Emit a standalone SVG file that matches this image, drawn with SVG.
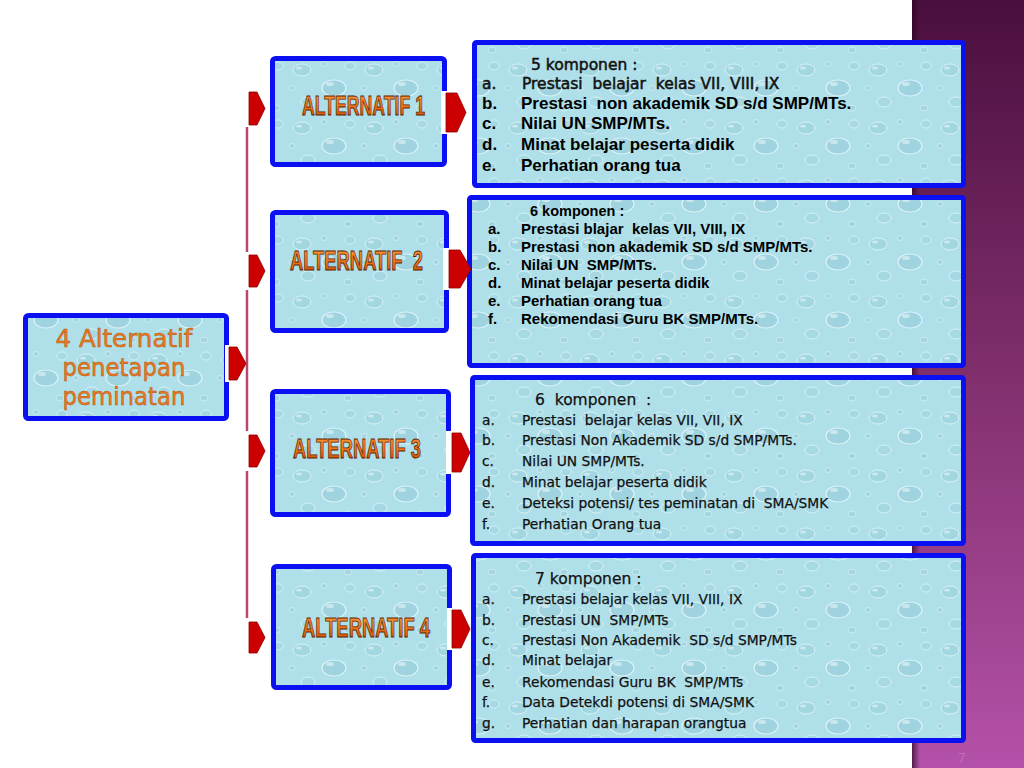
<svg xmlns="http://www.w3.org/2000/svg" width="1024" height="768" viewBox="0 0 1024 768" xml:space="preserve">
<defs>
<linearGradient id="band" x1="0" y1="0" x2="0" y2="1"><stop offset="0" stop-color="#4a0f3e"/><stop offset="0.5" stop-color="#82306e"/><stop offset="1" stop-color="#b451a9"/></linearGradient>
<linearGradient id="bandEdge" x1="0" y1="0" x2="1" y2="0"><stop offset="0" stop-color="#2a0422" stop-opacity="0.7"/><stop offset="1" stop-color="#2a0422" stop-opacity="0"/></linearGradient>
<linearGradient id="orange" x1="0" y1="0" x2="0" y2="1"><stop offset="0" stop-color="#ffa040"/><stop offset="0.55" stop-color="#ee7418"/><stop offset="1" stop-color="#c04800"/></linearGradient>
<pattern id="drops" width="72" height="58" patternUnits="userSpaceOnUse">
<rect width="72" height="58" fill="#afe0ea"/>
<ellipse cx="14" cy="12" rx="9" ry="6" fill="#a2d6e1" stroke="#d8f2f7" stroke-width="1"/>
<ellipse cx="46" cy="30" rx="12" ry="8" fill="#9fd3df" stroke="#dcf3f8" stroke-width="1.2"/>
<ellipse cx="20" cy="44" rx="7" ry="5" fill="#a6d9e3" stroke="#d6f1f6" stroke-width="1"/>
<ellipse cx="62" cy="8" rx="5" ry="4" fill="#a6d9e3" stroke="#d8f2f7" stroke-width="0.8"/>
<ellipse cx="36" cy="6" rx="3" ry="2.5" fill="#a4d7e2" stroke="#e0f5f9" stroke-width="0.6"/>
<ellipse cx="4" cy="30" rx="3" ry="2.5" fill="#a4d7e2" stroke="#e0f5f9" stroke-width="0.6"/>
<ellipse cx="60" cy="50" rx="4" ry="3" fill="#a4d7e2" stroke="#e0f5f9" stroke-width="0.6"/>
<ellipse cx="42" cy="26" rx="4" ry="2" fill="#ffffff" opacity="0.45"/>
<ellipse cx="11" cy="10" rx="3" ry="1.5" fill="#ffffff" opacity="0.45"/>
</pattern>
<style>
text{white-space:pre}
.box{fill:url(#drops);stroke:#0a10f2;stroke-width:5}
.arr{fill:#cc0000;stroke:#8f0000;stroke-width:0.8}
.gap{fill:#ffffff}
.main{font-family:"DejaVu Sans","Noto Sans",sans-serif;font-size:24px;fill:#e97c22;stroke:#b85410;stroke-width:0.5;text-anchor:middle}
.alt{font-family:"Liberation Sans",Arial,sans-serif;font-weight:bold;font-size:28px;fill:url(#orange);stroke:#5a1e00;stroke-width:0.9}
.ab{font-family:"Liberation Sans",Arial,sans-serif;font-weight:bold;fill:#000}
.ab17{font-size:17px}
.ab15{font-size:15px}
.tah{font-family:"DejaVu Sans","Noto Sans",sans-serif;fill:#111;stroke:#111;stroke-width:0.25}
.tb{stroke-width:0.5}
.th16{font-size:15.5px}
.th14{font-size:13.8px}
</style>
</defs>
<rect x="0" y="0" width="1024" height="768" fill="#ffffff"/>
<rect x="912" y="0" width="112" height="768" fill="url(#band)"/>
<rect x="912" y="0" width="8" height="768" fill="url(#bandEdge)"/>
<text x="958" y="763" font-family="Liberation Sans,Arial,sans-serif" font-size="14" fill="#c66bbd">7</text>

<g id="connectors">
<line x1="247" y1="127" x2="247" y2="618" stroke="#b84a72" stroke-width="2.5"/>
<rect class="gap" x="244" y="252" width="6" height="38"/>
<rect class="gap" x="244" y="431" width="6" height="40"/>
<path class="arr" d="M249,92 H257 L265,108.5 L257,125 H249 Z"/>
<path class="arr" d="M249,255 H257 L265,271 L257,287 H249 Z"/>
<path class="arr" d="M249,435 H257 L265,451 L257,467 H249 Z"/>
<path class="arr" d="M249,622 H257 L265,637.5 L257,653 H249 Z"/>
</g>

<g id="node-main">
<rect class="box" x="25.5" y="315.5" width="201" height="103" rx="3"/>
<rect class="gap" x="225" y="345" width="5" height="37"/>
<path class="arr" d="M229,347 H237 L246,363.5 L237,380 H229 Z"/>
<text class="main" x="124" y="347" textLength="137" lengthAdjust="spacingAndGlyphs">4 Alternatif</text>
<text class="main" x="124" y="376" textLength="123" lengthAdjust="spacingAndGlyphs">penetapan</text>
<text class="main" x="124" y="405" textLength="123" lengthAdjust="spacingAndGlyphs">peminatan</text>
</g>

<g id="node-alt1">
<rect class="box" x="272.5" y="58.5" width="172" height="106" rx="3"/>
<text class="alt" x="302" y="115" textLength="123" lengthAdjust="spacingAndGlyphs">ALTERNATIF 1</text>
</g>
<g id="node-alt2">
<rect class="box" x="272.5" y="212.5" width="174" height="118" rx="3"/>
<text class="alt" x="290" y="270" textLength="133" lengthAdjust="spacingAndGlyphs">ALTERNATIF  2</text>
</g>
<g id="node-alt3">
<rect class="box" x="272.5" y="391.5" width="176" height="123" rx="3"/>
<text class="alt" x="293" y="458" textLength="128" lengthAdjust="spacingAndGlyphs">ALTERNATIF 3</text>
</g>
<g id="node-alt4">
<rect class="box" x="273.5" y="566.5" width="176" height="121" rx="3"/>
<text class="alt" x="302" y="637" textLength="128" lengthAdjust="spacingAndGlyphs">ALTERNATIF 4</text>
</g>

<g id="node-comp1">
<rect class="box" x="474.5" y="42.5" width="489" height="143" rx="2"/>
<text class="tah tb th16" x="531" y="70">5 komponen :</text>
<text class="tah tb th16" x="482" y="89">a.</text>
<text class="tah tb th16" x="522" y="89">Prestasi  belajar  kelas VII, VIII, IX</text>
<text class="ab ab17" x="482" y="109">b.</text>
<text class="ab ab17" x="521" y="109">Prestasi  non akademik SD s/d SMP/MTs.</text>
<text class="ab ab17" x="482" y="129">c.</text>
<text class="ab ab17" x="521" y="129">Nilai UN SMP/MTs.</text>
<text class="ab ab17" x="482" y="150">d.</text>
<text class="ab ab17" x="521" y="150">Minat belajar peserta didik</text>
<text class="ab ab17" x="482" y="171">e.</text>
<text class="ab ab17" x="521" y="171">Perhatian orang tua</text>
</g>

<g id="node-comp2">
<rect class="box" x="469.5" y="197.5" width="494" height="168" rx="2"/>
<text class="ab" font-size="14.5" x="530" y="216">6 komponen :</text>
<text class="ab ab15" x="488" y="234">a.</text>
<text class="ab ab15" x="521" y="234">Prestasi blajar  kelas VII, VIII, IX</text>
<text class="ab ab15" x="488" y="252">b.</text>
<text class="ab ab15" x="521" y="252">Prestasi  non akademik SD s/d SMP/MTs.</text>
<text class="ab ab15" x="488" y="270">c.</text>
<text class="ab ab15" x="521" y="270">Nilai UN  SMP/MTs.</text>
<text class="ab ab15" x="488" y="288">d.</text>
<text class="ab ab15" x="521" y="288">Minat belajar peserta didik</text>
<text class="ab ab15" x="488" y="306">e.</text>
<text class="ab ab15" x="521" y="306">Perhatian orang tua</text>
<text class="ab ab15" x="488" y="324">f.</text>
<text class="ab ab15" x="521" y="324">Rekomendasi Guru BK SMP/MTs.</text>
</g>

<g id="node-comp3">
<rect class="box" x="472.5" y="377.5" width="491" height="166" rx="2"/>
<text class="tah th16" x="535" y="405">6  komponen  :</text>
<text class="tah th14" x="482" y="425">a.</text>
<text class="tah th14" x="522" y="425">Prestasi  belajar kelas VII, VII, IX</text>
<text class="tah th14" x="482" y="445">b.</text>
<text class="tah th14" x="522" y="445">Prestasi Non Akademik SD s/d SMP/MTs.</text>
<text class="tah th14" x="482" y="466">c.</text>
<text class="tah th14" x="522" y="466">Nilai UN SMP/MTs.</text>
<text class="tah th14" x="482" y="487">d.</text>
<text class="tah th14" x="522" y="487">Minat belajar peserta didik</text>
<text class="tah th14" x="482" y="508">e.</text>
<text class="tah th14" x="522" y="508">Deteksi potensi/ tes peminatan di  SMA/SMK</text>
<text class="tah th14" x="482" y="529">f.</text>
<text class="tah th14" x="522" y="529">Perhatian Orang tua</text>
</g>

<g id="node-comp4">
<rect class="box" x="473.5" y="555.5" width="490" height="185" rx="2"/>
<text class="tah th16" x="535" y="584">7 komponen :</text>
<text class="tah th14" x="482" y="604">a.</text>
<text class="tah th14" x="522" y="604">Prestasi belajar kelas VII, VIII, IX</text>
<text class="tah th14" x="482" y="625">b.</text>
<text class="tah th14" x="522" y="625">Prestasi UN  SMP/MTs</text>
<text class="tah th14" x="482" y="645">c.</text>
<text class="tah th14" x="522" y="645">Prestasi Non Akademik  SD s/d SMP/MTs</text>
<text class="tah th14" x="482" y="665">d.</text>
<text class="tah th14" x="522" y="665">Minat belajar</text>
<text class="tah th14" x="482" y="687">e.</text>
<text class="tah th14" x="522" y="687">Rekomendasi Guru BK  SMP/MTs</text>
<text class="tah th14" x="482" y="707">f.</text>
<text class="tah th14" x="522" y="707">Data Detekdi potensi di SMA/SMK</text>
<text class="tah th14" x="482" y="728">g.</text>
<text class="tah th14" x="522" y="728">Perhatian dan harapan orangtua</text>
</g>

<g id="arrows-front">
<rect class="gap" x="441" y="91" width="6" height="43"/>
<rect class="gap" x="443" y="248" width="7" height="42"/>
<rect class="gap" x="446" y="431" width="7" height="43"/>
<rect class="gap" x="447" y="608" width="6" height="42"/>
<path class="arr" d="M446,93 H457 L466,112.5 L457,132 H446 Z"/>
<path class="arr" d="M449,250 H460 L471,269 L460,288 H449 Z"/>
<path class="arr" d="M452,433 H461 L470,452.5 L461,472 H452 Z"/>
<path class="arr" d="M452,610 H461 L470,629 L461,648 H452 Z"/>
</g>
</svg>
